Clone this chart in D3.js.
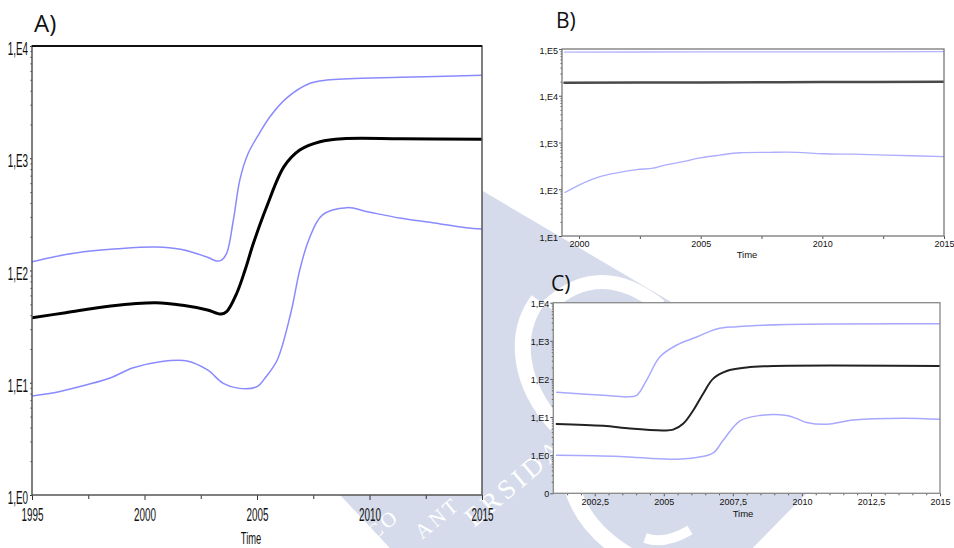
<!DOCTYPE html>
<html><head><meta charset="utf-8">
<script src="https://cdn.jsdelivr.net/npm/d3@7"></script>
<style>body{margin:0;background:#fff}svg{display:block}</style>
</head><body><svg id="c" width="954" height="548"></svg>
<script>
// ---------------- DATA ----------------
// Panel A
const aTicksX = [1995, 2000, 2005, 2010, 2015];
const aTickLabelsX = ["1995", "2000", "2005", "2010", "2015"];
const aTicksY = [1, 10, 100, 1000, 10000];
const aTickLabelsY = ["1,E0", "1,E1", "1,E2", "1,E3", "1,E4"];
const aUpperYears = [1995, 1996, 1997.3, 1998.8, 2000.5, 2001.6, 2002.8, 2003.2, 2003.4, 2003.65, 2003.95, 2004.24, 2004.6, 2005.1, 2005.6, 2006.3, 2007.36, 2008.1, 2009.1, 2011.4, 2015];
const aUpperVals  = [119.7, 132.7, 146.9, 156.3, 161.8, 154.5, 131.2, 121.6, 123, 142.2, 281.8, 645.7, 1096, 1660, 2377, 3420, 4656, 4977, 5117, 5260, 5483];
const aMedianYears = [1995, 1996.5, 1998.5, 2000.5, 2001.7, 2002.8, 2003.4, 2003.65, 2004.1, 2004.47, 2004.84, 2005.43, 2006.2, 2006.9, 2007.8, 2008.8, 2011.4, 2015];
const aMedianVals  = [37.9, 42.1, 48.3, 51.6, 49.0, 44.5, 40.9, 43.0, 62.7, 100.9, 174.6, 369.8, 841, 1183, 1403, 1493, 1493, 1476];
const aLowerYears = [1995, 1996.2, 1997.4, 1998.5, 1999.5, 2000.7, 2001.9, 2002.8, 2003.5, 2004.2, 2005.0, 2005.4, 2005.9, 2006.5, 2006.9, 2007.3, 2007.9, 2009.0, 2009.9, 2011.4, 2012.8, 2014.3, 2015];
const aLowerVals  = [7.62, 8.32, 9.55, 11.09, 13.61, 15.42, 15.63, 13.0, 9.89, 8.91, 9.23, 11.32, 15.96, 41.6, 100.9, 187.1, 311.9, 363.1, 334.2, 291.7, 266.7, 240.4, 234.4];

// Panel B
const bTicksX = [2000, 2005, 2010, 2015];
const bTickLabelsX = ["2000", "2005", "2010", "2015"];
const bTicksY = [10, 100, 1000, 10000, 100000];
const bTickLabelsY = ["1,E1", "1,E2", "1,E3", "1,E4", "1,E5"];
const bUpperYears = [1999.4, 2005, 2010, 2015];
const bUpperVals  = [86000, 86500, 87000, 87500];
const bMedianYears = [1999.4, 2005, 2010, 2015];
const bMedianVals  = [19000, 19300, 19600, 19900];
const bLowerYears = [1999.42, 2000.04, 2000.86, 2001.56, 2002.38, 2003.04, 2003.45, 2004.27, 2004.97, 2005.78, 2006.62, 2007.85, 2008.96, 2010.03, 2011.26, 2012.66, 2015];
const bLowerVals  = [85, 126, 186, 224, 263, 282, 321, 389, 468, 537, 603, 617, 617, 575, 562, 537, 501];

// Panel C
const cTicksX = [2002.5, 2005, 2007.5, 2010, 2012.5, 2015];
const cTickLabelsX = ["2002,5", "2005", "2007,5", "2010", "2012,5", "2015"];
const cTicksY = [0.1, 1, 10, 100, 1000, 10000];
const cTickLabelsY = ["0", "1,E0", "1,E1", "1,E2", "1,E3", "1,E4"];
const cUpperYears = [2001.12, 2002.81, 2003.66, 2004.02, 2004.38, 2004.86, 2005.47, 2006.19, 2006.92, 2007.64, 2009.45, 2015];
const cUpperVals  = [44.7, 37.2, 33.9, 37.2, 93.3, 380, 776, 1259, 2042, 2344, 2692, 2818];
const cMedianYears = [2001.12, 2002.81, 2003.78, 2004.98, 2005.34, 2005.71, 2006.07, 2006.43, 2006.79, 2007.28, 2008.0, 2008.97, 2015];
const cMedianVals  = [6.6, 5.9, 5.0, 4.47, 4.68, 6.76, 15.1, 41.7, 102, 162, 200, 219, 219];
const cLowerYears = [2001.12, 2003.41, 2005.22, 2006.19, 2006.79, 2007.15, 2007.76, 2008.48, 2009.45, 2009.81, 2010.17, 2010.9, 2011.86, 2013.67, 2015];
const cLowerVals  = [1.0, 0.93, 0.78, 0.87, 1.15, 2.45, 7.94, 11.0, 11.0, 9.12, 7.24, 6.46, 8.32, 9.33, 8.71];

// ---------------- DRAWING ----------------
const svg = d3.select("#c");
const WM = "#d5dbea";

// background watermark (decorative)
const wm = svg.append("g");
wm.append("path")
  .attr("d", "M470,183.5 L700,319 L902,396 L741,560 L401,560 L326,480 L300,300 Z")
  .attr("fill", WM);
wm.append("path").attr("d", "M548,306 Q600,258 660,306").attr("fill", "none").attr("stroke", "#fff").attr("stroke-width", 14);
wm.append("path").attr("d", "M538,300 C512,335 520,385 556,425").attr("fill", "none").attr("stroke", "#fff").attr("stroke-width", 16);
wm.append("path").attr("d", "M572,488 Q585,530 630,556").attr("fill", "none").attr("stroke", "#fff").attr("stroke-width", 16);
wm.append("path").attr("d", "M645,538 Q665,545 690,530").attr("fill", "none").attr("stroke", "#fff").attr("stroke-width", 10);
const wmText = [["ERSIDA", 474, 528, 27, 4], ["ANT", 422, 540, 21, 3], ["CO", 374, 541, 21, 3]];
wmText.forEach(t => {
  wm.append("text").attr("transform", `translate(${t[1]},${t[2]}) rotate(-40)`)
    .attr("font-family", "Liberation Serif, serif").attr("font-size", t[3])
    .attr("letter-spacing", t[4]).attr("fill", "#fff").text(t[0]);
});

function minorLog(lo, hi) {
  const out = [];
  for (let e = Math.round(Math.log10(lo)); e < Math.round(Math.log10(hi)); e++)
    for (let k = 2; k <= 9; k++) out.push(k * Math.pow(10, e));
  return out;
}
function range(a, b, s) { const o = []; for (let v = a; v <= b + 1e-9; v += s) o.push(+v.toFixed(4)); return o; }

function panel(p) {
  const g = svg.append("g");
  const x = d3.scaleLinear().domain(p.xDomain).range([p.left, p.right]);
  const y = d3.scaleLog().domain(p.yDomain).range([p.bottom, p.top]);
  g.append("rect").attr("x", p.left).attr("y", p.top)
    .attr("width", p.right - p.left).attr("height", p.bottom - p.top).attr("fill", "#fff");

  const line = d3.line().x(d => x(d[0])).y(d => y(d[1])).curve(d3.curveCatmullRom.alpha(0.5));
  const clipId = "clip" + p.id;
  svg.append("clipPath").attr("id", clipId).append("rect")
    .attr("x", p.left).attr("y", p.top - 2).attr("width", p.right - p.left).attr("height", p.bottom - p.top + 4);
  const lg = g.append("g").attr("clip-path", `url(#${clipId})`);
  p.series.forEach(s => {
    lg.append("path").datum(d3.zip(s.years, s.vals)).attr("d", line)
      .attr("fill", "none").attr("stroke", s.color).attr("stroke-width", s.width)
      .attr("stroke-linejoin", "round").attr("stroke-linecap", "round");
  });

  // minor ticks
  const yMinor = d3.axisLeft(y).tickValues(minorLog(p.yDomain[0], p.yDomain[1])).tickFormat("").tickSizeInner(p.minorY).tickSizeOuter(0);
  g.append("g").attr("transform", `translate(${p.left},0)`).call(yMinor)
    .call(a => a.select(".domain").remove()).selectAll("line").attr("stroke", p.tickColor);
  const xMinor = d3.axisBottom(x).tickValues(p.minorXTicks).tickFormat("").tickSizeInner(p.minorX).tickSizeOuter(0);
  g.append("g").attr("transform", `translate(0,${p.bottom})`).call(xMinor)
    .call(a => a.select(".domain").remove()).selectAll("line").attr("stroke", p.tickColor);

  // major ticks
  const yAx = d3.axisLeft(y).tickValues(p.yTicks).tickFormat((d, i) => p.yLabels[i]).tickSizeInner(p.majorY).tickSizeOuter(0).tickPadding(2);
  const ya = g.append("g").attr("transform", `translate(${p.left},0)`).call(yAx);
  ya.select(".domain").remove();
  ya.selectAll("line").attr("stroke", p.tickColor);
  const xAx = d3.axisBottom(x).tickValues(p.xTicks).tickFormat((d, i) => p.xLabels[i]).tickSizeInner(p.majorX).tickSizeOuter(0);
  const xa = g.append("g").attr("transform", `translate(0,${p.bottom})`).call(xAx);
  xa.select(".domain").remove();
  xa.selectAll("line").attr("stroke", p.tickColor);

  [ya, xa].forEach(a => a.selectAll("text").attr("font-family", "Liberation Sans, Arial, sans-serif")
    .attr("font-size", p.fontSize).attr("fill", "#111"));
  ya.selectAll("text").attr("dy", null).attr("x", -p.yLabelGap / p.sx).attr("y", p.yLabelDy)
    .attr("transform", `scale(${p.sx},1)`);
  xa.selectAll("text").attr("dy", null).attr("y", p.xLabelDy).attr("transform", `scale(${p.sx},1)`)
    .attr("x", 0);

  // frame
  g.append("rect").attr("x", p.left).attr("y", p.top)
    .attr("width", p.right - p.left).attr("height", p.bottom - p.top)
    .attr("fill", "none").attr("stroke", p.frameColor).attr("stroke-width", p.frameWidth);
  if (p.topColor) g.append("line").attr("x1", p.left).attr("x2", p.right).attr("y1", p.top).attr("y2", p.top)
    .attr("stroke", p.topColor).attr("stroke-width", p.topWidth);

  // axis title
  g.append("text").attr("transform", `translate(${p.timeX},${p.timeY}) scale(${p.sx},1)`)
    .attr("text-anchor", "middle").attr("font-family", "Liberation Sans, Arial, sans-serif")
    .attr("font-size", p.titleSize).attr("fill", "#111").text("Time");
  // panel letter
  svg.append("text").attr("x", p.letterX).attr("y", p.letterY)
    .attr("font-family", "Open Sans, Noto Sans, sans-serif").attr("font-size", p.letterSize)
    .attr("fill", "#111").text(p.letter);
}

panel({
  id: "A", left: 32, right: 482, top: 46, bottom: 495,
  xDomain: [1995, 2015], yDomain: [1, 10000],
  xTicks: aTicksX, xLabels: aTickLabelsX, yTicks: aTicksY, yLabels: aTickLabelsY,
  minorXTicks: [1997.5, 2002.5, 2007.5, 2012.5],
  series: [
    { years: aUpperYears, vals: aUpperVals, color: "#8a8aff", width: 1.5 },
    { years: aLowerYears, vals: aLowerVals, color: "#8a8aff", width: 1.5 },
    { years: aMedianYears, vals: aMedianVals, color: "#000", width: 3 }
  ],
  majorY: 2, minorY: 1.5, majorX: 5, minorX: 4, tickColor: "#333",
  fontSize: 18, sx: 0.55, yLabelGap: 4, yLabelDy: 8.5, xLabelDy: 26,
  frameColor: "#555", frameWidth: 1.5, topColor: "#111", topWidth: 2,
  timeX: 251, timeY: 544, titleSize: 17,
  letter: "A)", letterX: 34, letterY: 32, letterSize: 24
});

panel({
  id: "B", left: 562, right: 944, top: 49, bottom: 236,
  xDomain: [1999.3, 2015], yDomain: [10, 100000],
  xTicks: bTicksX, xLabels: bTickLabelsX, yTicks: bTicksY, yLabels: bTickLabelsY,
  minorXTicks: [2002.5, 2007.5, 2012.5],
  series: [
    { years: bUpperYears, vals: bUpperVals, color: "#b4b4ff", width: 1.3 },
    { years: bLowerYears, vals: bLowerVals, color: "#adadff", width: 1.3 },
    { years: bMedianYears, vals: bMedianVals, color: "#4a4a4a", width: 2.5 }
  ],
  majorY: 3, minorY: 1.5, majorX: 3, minorX: 3, tickColor: "#555",
  fontSize: 9, sx: 1, yLabelGap: 4, yLabelDy: 4, xLabelDy: 11,
  frameColor: "#777", frameWidth: 1.3, topColor: null,
  timeX: 747, timeY: 258, titleSize: 9.5,
  letter: "B)", letterX: 556, letterY: 28, letterSize: 21
});

panel({
  id: "C", left: 553.3, right: 940, top: 302.7, bottom: 493.3,
  xDomain: [2001, 2015], yDomain: [0.1, 10000],
  xTicks: cTicksX, xLabels: cTickLabelsX, yTicks: cTicksY, yLabels: cTickLabelsY,
  minorXTicks: range(2001.5, 2014.5, 0.5).filter(v => v % 2.5 !== 0),
  series: [
    { years: cUpperYears, vals: cUpperVals, color: "#a8a8ff", width: 1.5 },
    { years: cLowerYears, vals: cLowerVals, color: "#a8a8ff", width: 1.5 },
    { years: cMedianYears, vals: cMedianVals, color: "#222", width: 2 }
  ],
  majorY: 3, minorY: 1.5, majorX: 3, minorX: 2, tickColor: "#555",
  fontSize: 9, sx: 1, yLabelGap: 4, yLabelDy: 3.5, xLabelDy: 12,
  frameColor: "#888", frameWidth: 1.3, topColor: null,
  timeX: 743, timeY: 517, titleSize: 9.5,
  letter: "C)", letterX: 551, letterY: 291, letterSize: 21
});
</script>
</body></html>
